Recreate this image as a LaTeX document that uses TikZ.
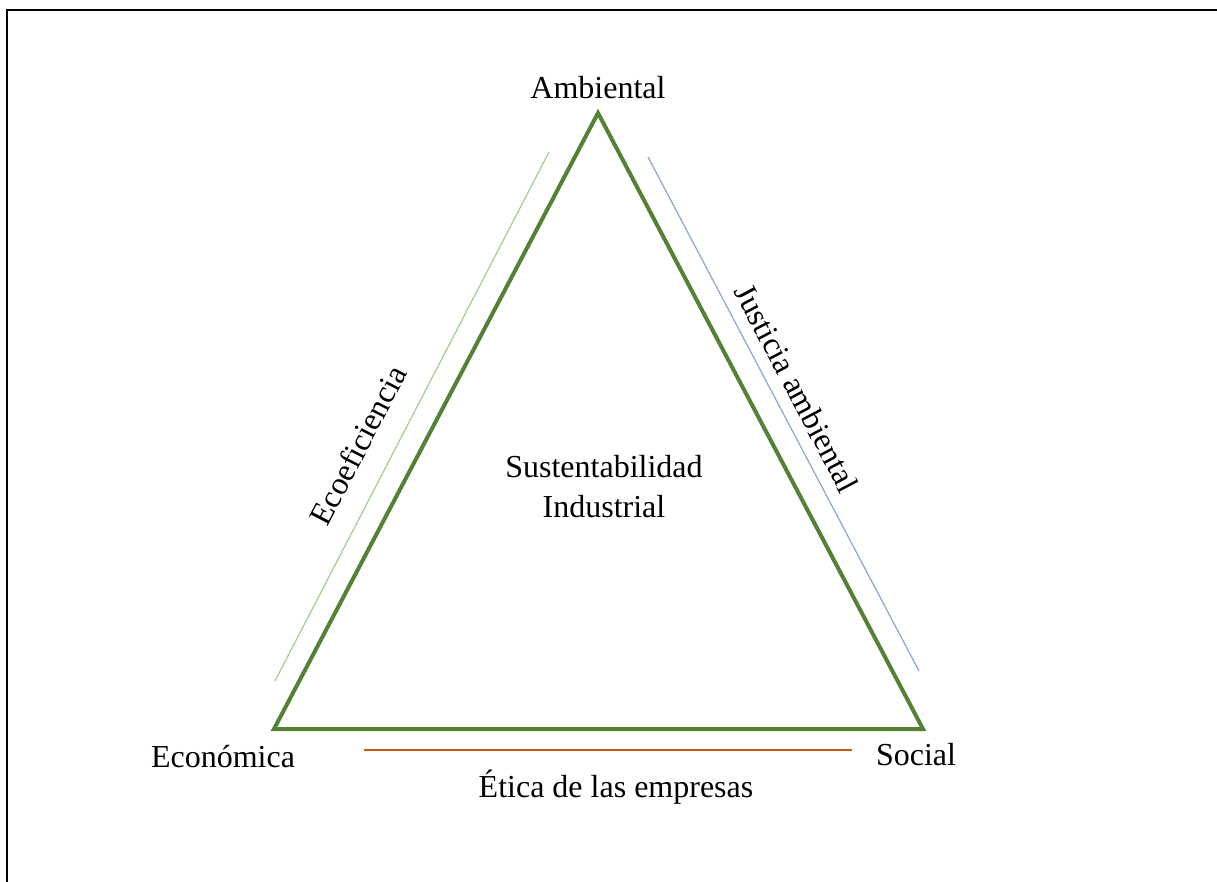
\documentclass[tikz,border=0pt]{standalone}
\usepackage{fontspec}
\setmainfont{Liberation Serif}
\definecolor{sideGreen}{HTML}{548235}
\definecolor{lightGreen}{HTML}{A9D18E}
\definecolor{lightBlue}{HTML}{8FAADC}
\definecolor{burntOrange}{HTML}{C55A11}

\def\labelsize{\fontsize{32}{38}\selectfont}

\begin{document}
\begin{tikzpicture}[x=1pt,y=-1pt]
    \tikzstyle{pillar}=[font=\labelsize,inner sep=0pt]
    \tikzstyle{relation}=[font=\labelsize,inner sep=0pt]
    \tikzstyle{triangle side}=[draw=sideGreen,line width=4pt,line join=miter]

    % Frame (only the left and top edges are visible)
    \clip (0,0) rectangle (1217,881);
    \draw[line width=2pt] (7,900) |- (1240,9.5);

    % Corners of the triangle
    \coordinate (A) at (598,113);
    \coordinate (E) at (274,729);
    \coordinate (S) at (923,729);
    \draw[triangle side] (A) -- (S) -- (E) -- cycle;

    % Pillar labels
    \node[pillar] (amb) at (598,88) {Ambiental};
    \node[pillar] (eco) at (223,757) {Económica};
    \node[pillar] (soc) at (916,755) {Social};
    \node[font=\labelsize,align=center] (center) at (604,487) {Sustentabilidad\\[2pt]Industrial};

    % Relations along each side
    \coordinate (g1) at (275,681);
    \coordinate (g2) at (549,152);
    \draw[lightGreen,line width=1.3pt] (g1) -- (g2);
    \node[relation,rotate=62.6] (ecoef) at (358,445) {Ecoeficiencia};

    \coordinate (b1) at (648,157);
    \coordinate (b2) at (919,671);
    \draw[lightBlue,line width=1.3pt] (b1) -- (b2);
    \node[relation,rotate=-62.2] (just) at (797,388) {Justicia ambiental};

    \coordinate (o1) at (364,750);
    \coordinate (o2) at (852,750);
    \draw[burntOrange,line width=1.3pt] (o1) -- (o2);
    \node[relation] (etica) at (616,787) {Ética de las empresas};

\end{tikzpicture}
\end{document}
